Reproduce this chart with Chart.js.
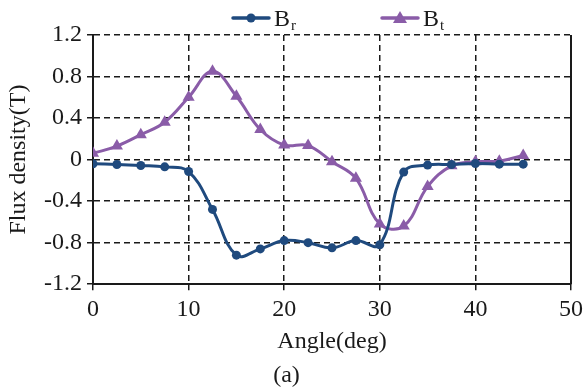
<!DOCTYPE html>
<html>
<head>
<meta charset="utf-8">
<script src="https://cdn.jsdelivr.net/npm/chart.js@4.4.0/dist/chart.umd.min.js"></script>
<style>
    html, body { margin: 0; padding: 0; background: #fff; }
    #wrap { width: 588px; height: 392px; }
</style>
</head>
<body>
<div id="wrap"><canvas id="fluxChart" width="588" height="392"></canvas></div>
<script>
// Data
const angles = [0, 2.5, 5, 7.5, 10, 12.5, 15, 17.5, 20, 22.5, 25, 27.5, 30, 32.5, 35, 37.5, 40, 42.5, 45];
const brValues = [-0.04, -0.047, -0.057, -0.07, -0.115, -0.48, -0.92, -0.86, -0.78, -0.80, -0.85, -0.78, -0.82, -0.12, -0.053, -0.047, -0.038, -0.044, -0.044];
const btValues = [0.06, 0.13, 0.24, 0.36, 0.60, 0.85, 0.61, 0.29, 0.14, 0.135, -0.02, -0.18, -0.62, -0.64, -0.26, -0.06, -0.02, -0.015, 0.04];
const xTicks = [0, 10, 20, 30, 40, 50];
const yTicks = [-1.2, -0.8, -0.4, 0, 0.4, 0.8, 1.2];
const yTickLabels = ['-1.2', '-0.8', '-0.4', '0', '0.4', '0.8', '1.2'];
const seriesNames = ['B', 'B'];
const seriesSubs = ['r', 't'];

const BLUE = '#1f4a7e';
const PURPLE = '#8a5ca8';
const INK = '#1a1a1a';
const FONT = "'Liberation Serif', 'Times New Roman', serif";

// Legend with subscripts + right frame line
const frameLegend = {
    id: 'frameLegend',
    afterDraw(chart) {
        const ctx = chart.ctx;
        const area = chart.chartArea;
        ctx.save();
        ctx.strokeStyle = INK;
        ctx.lineWidth = 2;
        ctx.beginPath();
        ctx.moveTo(area.right, area.top);
        ctx.lineTo(area.right, area.bottom);
        ctx.stroke();

        const spots = [233, 382];
        const y = 18;
        chart.data.datasets.forEach((ds, i) => {
            const x = spots[i];
            ctx.strokeStyle = ds.borderColor;
            ctx.fillStyle = ds.borderColor;
            ctx.lineWidth = 3.5;
            ctx.lineCap = 'round';
            ctx.beginPath();
            ctx.moveTo(x, y);
            ctx.lineTo(x + 36, y);
            ctx.stroke();
            const cx = x + 18;
            ctx.beginPath();
            if (ds.pointStyle === 'triangle') {
                ctx.moveTo(cx, y - 7);
                ctx.lineTo(cx + 7, y + 5);
                ctx.lineTo(cx - 7, y + 5);
                ctx.closePath();
            } else {
                ctx.arc(cx, y, 4.5, 0, Math.PI * 2);
            }
            ctx.fill();

            ctx.fillStyle = INK;
            ctx.textBaseline = 'alphabetic';
            ctx.textAlign = 'left';
            ctx.font = '24px ' + FONT;
            ctx.fillText(seriesNames[i], x + 41, y + 8);
            const w = ctx.measureText(seriesNames[i]).width;
            ctx.font = '15px ' + FONT;
            ctx.fillText(seriesSubs[i], x + 42 + w, y + 12);
        });
        ctx.restore();
    }
};

const ctx = document.getElementById('fluxChart').getContext('2d');
new Chart(ctx, {
    type: 'line',
    data: {
        datasets: [
            {
                label: 'Br',
                data: angles.map((a, i) => ({ x: a, y: brValues[i] })),
                borderColor: BLUE,
                backgroundColor: BLUE,
                borderWidth: 3,
                pointStyle: 'circle',
                pointRadius: 4.5,
                pointBorderWidth: 0,
                tension: 0.4
            },
            {
                label: 'Bt',
                data: angles.map((a, i) => ({ x: a, y: btValues[i] })),
                borderColor: PURPLE,
                backgroundColor: PURPLE,
                borderWidth: 3,
                pointStyle: 'triangle',
                pointRadius: 7,
                pointBorderWidth: 0,
                tension: 0.4
            }
        ]
    },
    options: {
        responsive: false,
        animation: false,
        layout: { padding: { top: 35, right: 15, left: 0, bottom: 0 } },
        plugins: {
            legend: { display: false },
            tooltip: { enabled: false },
            title: {
                display: true,
                position: 'bottom',
                text: '(a)',
                color: INK,
                font: { family: FONT, size: 24, weight: 'normal' },
                padding: { top: 0, bottom: 2 }
            }
        },
        scales: {
            x: {
                type: 'linear',
                min: 0,
                max: 50,
                afterBuildTicks: (scale) => { scale.ticks = xTicks.map(v => ({ value: v })); },
                afterFit: (scale) => { scale.height = 77; },
                ticks: {
                    color: INK,
                    padding: 5,
                    font: { family: FONT, size: 24 },
                    callback: (v) => String(v)
                },
                grid: { color: INK, lineWidth: 1.5, tickLength: 6, tickColor: INK, tickWidth: 1.5 },
                border: { display: true, color: INK, width: 2, dash: [6, 4] },
                title: {
                    display: true,
                    text: 'Angle(deg)',
                    color: INK,
                    font: { family: FONT, size: 24 },
                    padding: { top: 0, bottom: 5 }
                }
            },
            y: {
                type: 'linear',
                min: -1.2,
                max: 1.2,
                afterBuildTicks: (scale) => { scale.ticks = yTicks.map(v => ({ value: v })); },
                afterFit: (scale) => { scale.width = 93; },
                ticks: {
                    color: INK,
                    padding: 5,
                    font: { family: FONT, size: 24 },
                    callback: (v) => yTickLabels[yTicks.findIndex(t => Math.abs(t - v) < 1e-6)]
                },
                grid: { color: INK, lineWidth: 1.5, tickLength: 6, tickColor: INK, tickWidth: 1.5 },
                border: { display: true, color: INK, width: 2, dash: [6, 4] },
                title: {
                    display: true,
                    text: 'Flux density(T)',
                    color: INK,
                    font: { family: FONT, size: 24 },
                    padding: { top: 4, bottom: 0 }
                }
            }
        }
    },
    plugins: [frameLegend]
});
</script>
</body>
</html>
